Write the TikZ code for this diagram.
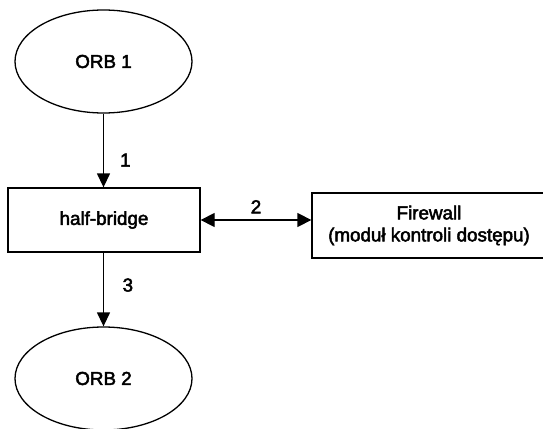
\documentclass[tikz,border=0pt]{standalone}
\usepackage{fontspec}
\setmainfont[FakeBold=2.5]{Liberation Sans}
\usepackage{tikz}
\usetikzlibrary{arrows.meta, shapes.geometric}
\def\lw{1.3pt}

\begin{document}
\begin{tikzpicture}[x=1pt, y=-1pt, line width=\lw,
	font=\fontsize{18.8}{22}\selectfont,
	orb/.style={draw, ellipse, minimum width=177pt, minimum height=103pt, inner sep=0},
	box/.style={draw, rectangle, align=center, inner sep=0},
	flow/.style={-{Triangle[length=14pt, width=13pt]}},
	both/.style={{Triangle[length=14pt, width=14pt]}-{Triangle[length=14pt, width=14pt]}},
	lbl/.style={inner sep=0}]

	\useasboundingbox (0,0) rectangle (543,428);

	\node[orb] (orb1) at (103.5,61.5) {ORB 1};
	\node[box, minimum width=192pt, minimum height=64pt] (bridge) at (104,220) {half-bridge};
	\node[box, minimum width=234pt, minimum height=65pt] (fw) at (429,225.5) {Firewall\\(moduł kontroli dostępu)};
	\node[orb] (orb2) at (103.5,378.5) {ORB 2};

	% connections
	\draw[flow] (orb1.south) -- (orb1.south |- bridge.north) node[lbl, pos=0.63, anchor=west, xshift=16pt] (n1) {1};
	\draw[both] (bridge.east) -- (bridge.east -| fw.west) node[lbl, midway, above=6pt] (n2) {2};
	\draw[flow] (orb2.north |- bridge.south) -- (orb2.north) node[lbl, pos=0.44, anchor=west, xshift=18.5pt] (n3) {3};

\end{tikzpicture}
\end{document}
